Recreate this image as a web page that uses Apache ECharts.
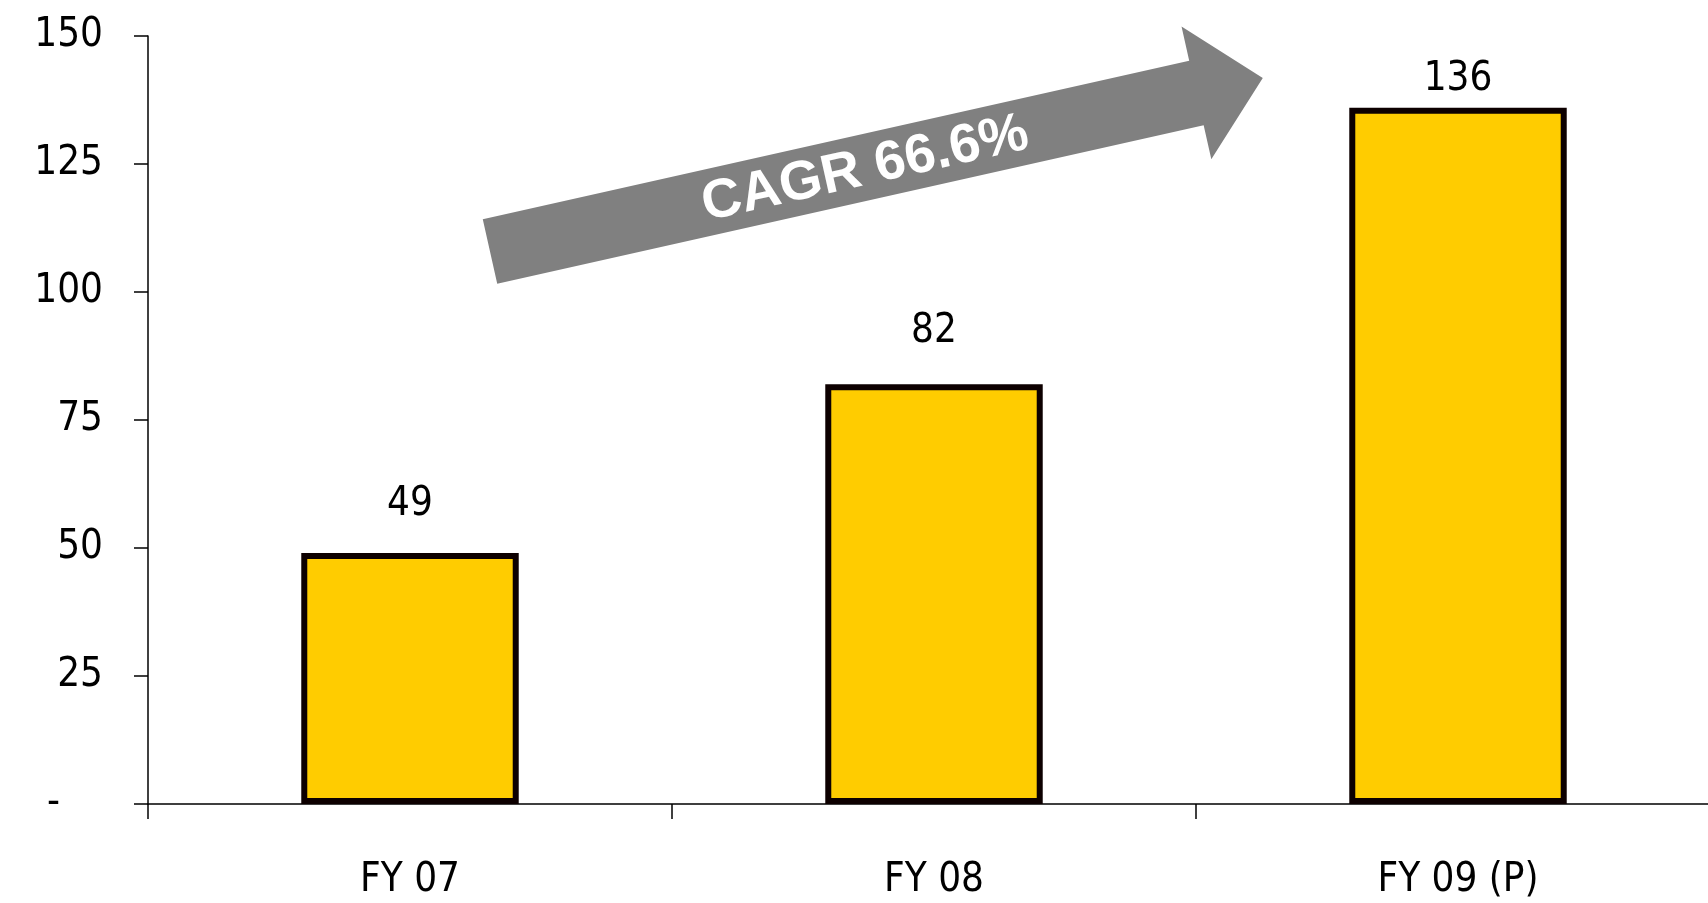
<!DOCTYPE html>
<html>
<head>
<meta charset="utf-8">
<title>CAGR 66.6%</title>
<script src="https://cdn.jsdelivr.net/npm/echarts@6/dist/echarts.min.js"></script>
<style>
  html, body { margin: 0; padding: 0; background: #ffffff; }
  #chart { width: 1708px; height: 903px; }
</style>
</head>
<body>
<div id="chart"></div>
<script>
// Fiscal years and their values
const categories = ['FY 07', 'FY 08', 'FY 09 (P)'];
const values = [49, 82, 136];

// Value-axis tick labels (zero is shown as a dash)
const yTickLabels = ['-', '25', '50', '75', '100', '125', '150'];

const growthText = 'CAGR 66.6%';

const labelFont = '"DejaVu Sans Condensed", "DejaVu Sans", Tahoma, sans-serif';

const chart = echarts.init(document.getElementById('chart'), null, { renderer: 'canvas' });

// Arrow geometry (local frame: x along the arrow, y across it)
const arrowLen = 792, shaftHalf = 33, headHalf = 68, headLen = 68;
const arrowAngle = 12.65 * Math.PI / 180;

// Per-bar gap between the bar top and its value label
const labelGap = [29, 33, 8];

const option = {
  animation: false,
  backgroundColor: '#ffffff',
  // the plot runs a little past the right edge of the canvas
  grid: {
    left: 148, width: 1572, top: 36, bottom: 99,
    containLabel: false,
    outerBoundsMode: 'none'
  },
  xAxis: {
    type: 'category',
    data: categories,
    boundaryGap: true,
    axisLine: { show: true, lineStyle: { color: '#000', width: 1.5 } },
    axisTick: { show: true, length: 15, alignWithLabel: false, lineStyle: { color: '#000', width: 1.5 } },
    axisLabel: { color: '#000', fontFamily: labelFont, fontSize: 40, margin: 57 },
    splitLine: { show: false }
  },
  yAxis: {
    type: 'value',
    min: 0,
    max: 150,
    interval: 25,
    axisLine: { show: true, lineStyle: { color: '#000', width: 1.5 } },
    axisTick: { show: true, length: 14, inside: false, lineStyle: { color: '#000', width: 1.5 } },
    axisLabel: {
      color: '#000',
      fontFamily: labelFont,
      fontSize: 40,
      margin: 45,
      formatter: (v) => {
        const t = yTickLabels[Math.round(v / 25)];
        return v === 0 ? '{dash|' + t + '}' : t;
      },
      rich: {
        dash: { fontFamily: labelFont, fontSize: 40, color: '#000', padding: [0, 43, 0, 0] }
      }
    },
    splitLine: { show: false }
  },
  series: [{
    type: 'bar',
    barWidth: '41.5%',
    data: values.map((v, i) => ({
      value: v,
      label: { distance: labelGap[i] }
    })),
    itemStyle: { color: '#FFCC00', borderColor: '#0d0000', borderWidth: 6 },
    label: {
      show: true,
      position: 'top',
      color: '#000',
      fontFamily: labelFont,
      fontSize: 40
    }
  }],
  graphic: [{
    type: 'group',
    x: 490,
    y: 251.5,
    rotation: arrowAngle,
    children: [{
      type: 'polygon',
      shape: {
        points: [
          [0, -shaftHalf],
          [arrowLen - headLen, -shaftHalf],
          [arrowLen - headLen, -headHalf],
          [arrowLen, 0],
          [arrowLen - headLen, headHalf],
          [arrowLen - headLen, shaftHalf],
          [0, shaftHalf]
        ]
      },
      style: { fill: '#808080' }
    }, {
      type: 'text',
      x: 384,
      y: 2,
      style: {
        text: growthText,
        fill: '#ffffff',
        font: 'bold 55px "Liberation Sans", Arial, sans-serif',
        align: 'center',
        verticalAlign: 'middle'
      }
    }]
  }]
};

chart.setOption(option);
</script>
</body>
</html>
